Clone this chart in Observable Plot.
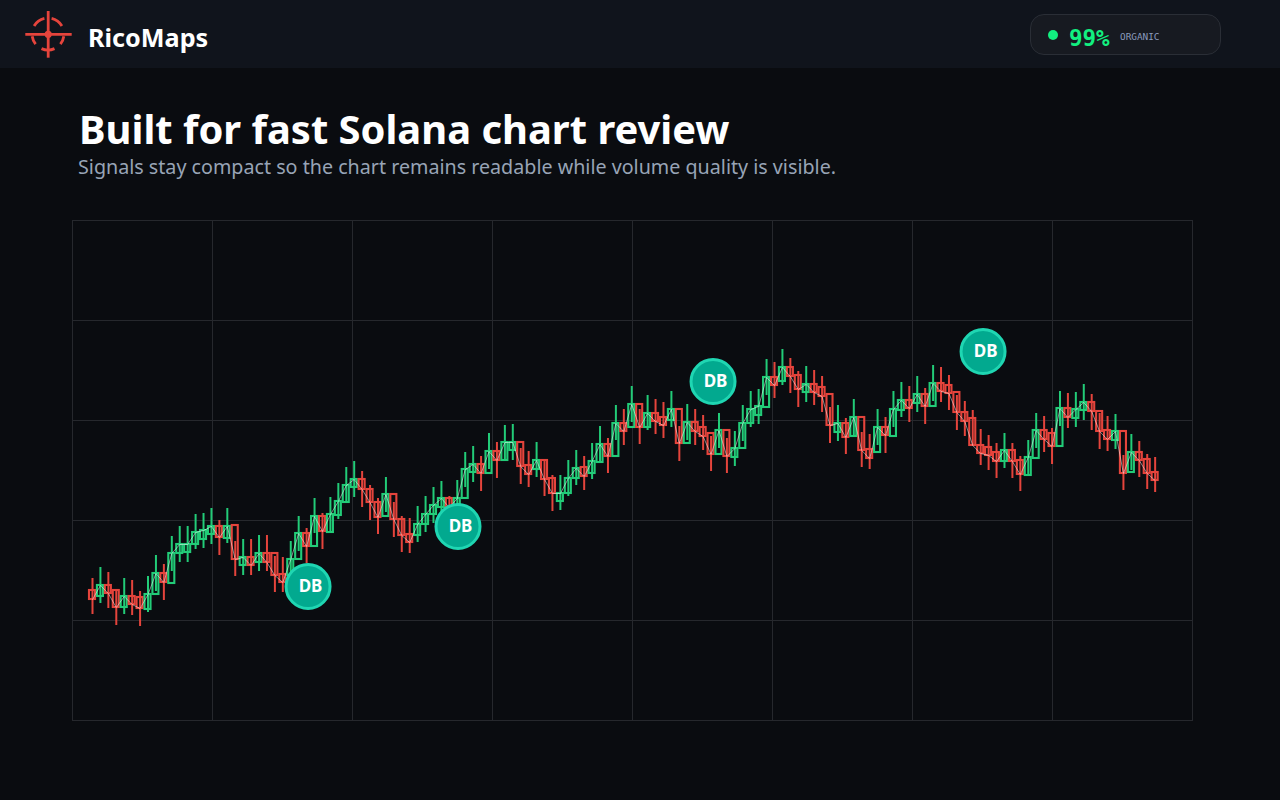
<!DOCTYPE html>
<html><head><meta charset="utf-8">
<script src="https://cdn.jsdelivr.net/npm/d3@7"></script>
<script src="https://cdn.jsdelivr.net/npm/@observablehq/plot@0.6"></script>
<style>
html,body{margin:0;padding:0;background:#0a0c10;width:1280px;height:800px;overflow:hidden;font-family:"Noto Sans",sans-serif}
.hdr{position:absolute;left:0;top:0;width:1280px;height:68px;background:#10141c}
.logo{position:absolute;left:24px;top:10px}
.brand{position:absolute;left:88px;top:19px;font-size:25.2px;line-height:36px;font-weight:700;color:#fff}
.pill{position:absolute;left:1030px;top:14px;width:189px;height:39px;border:1px solid #2a2e36;border-radius:14px;background:#171a21}
.dot{position:absolute;left:17px;top:15px;width:10px;height:10px;border-radius:50%;background:#12f080}
.pct{position:absolute;left:38px;top:9px;font:700 22.5px/28px "DejaVu Sans Mono",monospace;color:#12f080}
.org{position:absolute;left:89px;top:15px;font:9.4px/14px "DejaVu Sans Mono",monospace;color:#8a9bbd}
h1{position:absolute;left:79px;top:99.5px;margin:0;font-size:39.9px;line-height:58px;font-weight:700;color:#fff;white-space:nowrap}
p.sub{position:absolute;left:78px;top:152px;margin:0;font-size:19.7px;line-height:30px;color:#98a4b6;white-space:nowrap}
#chart{position:absolute;left:0;top:200px}
#chart svg{display:block;background:transparent}
</style></head><body>
<div class="hdr">
<svg class="logo" width="48" height="48" viewBox="0 0 48 48">
<g fill="none" stroke="#e5443c" stroke-width="2.8">
<path d="M27.6 8.4A16 16 0 0 1 37.9 16"/><path d="M39.8 26.2A16 16 0 0 1 36.4 34.1"/><path d="M30.5 38.6A16 16 0 0 1 17.5 38.6"/><path d="M11.6 34.1A16 16 0 0 1 8.2 26.2"/><path d="M10.1 16A16 16 0 0 1 20.4 8.4"/>
<line x1="1.3" y1="24.3" x2="47.7" y2="24.3"/><line x1="24.2" y1="1" x2="24.2" y2="47.7"/></g>
<circle cx="24.2" cy="24.3" r="3.6" fill="#e5443c"/>
</svg>
<div class="brand">RicoMaps</div>
<div class="pill"><div class="dot"></div><div class="pct">99%</div><div class="org">ORGANIC</div></div>
</div>
<h1>Built for fast Solana chart review</h1>
<p class="sub">Signals stay compact so the chart remains readable while volume quality is visible.</p>
<div id="chart"></div>
<script>
const opens=[130,124,135,130,113,124,123,111,126,147,137,167,168,176,181,186,194,182,195,155,163,158,167,167,146,145,161,187,174,204,188,205,218,233,241,231,218,204,226,201,186,185,196,206,213,222,213,222,248,256,247,269,260,270,278,255,251,260,242,219,227,242,253,247,258,276,264,297,293,316,293,307,303,300,311,277,298,293,287,266,290,263,272,297,305,313,343,339,353,345,328,336,333,326,288,297,284,303,271,268,293,284,310,320,317,326,314,337,335,328,308,302,275,273,268,259,270,260,245,262,290,287,274,312,302,310,318,309,290,280,289,248,268,261,248];
const closes=[121,135,127,113,124,116,112,126,147,138,167,176,176,188,190,194,183,194,161,163,155,167,158,145,138,161,187,174,204,189,206,219,235,241,231,218,203,226,201,185,178,196,206,215,222,213,222,251,256,247,269,260,278,278,254,246,260,241,227,227,242,252,244,259,276,264,297,289,316,293,307,299,295,311,277,298,289,284,266,290,264,272,297,311,314,343,335,353,344,331,336,328,324,295,297,283,303,270,262,293,285,311,320,312,326,314,337,329,327,308,299,275,267,265,259,270,259,246,263,290,281,274,312,303,311,318,309,289,281,289,247,268,260,247,240];
const highs=[142,153,148,131,142,140,129,144,165,156,184,194,194,206,207,212,200,212,179,181,181,185,185,164,163,179,204,192,222,207,223,237,253,259,249,235,222,243,218,204,202,214,224,233,239,224,240,268,274,264,287,278,295,296,272,269,278,259,245,245,260,270,264,277,294,282,315,311,334,311,325,321,318,329,294,316,311,305,284,307,282,289,315,329,331,361,358,371,362,349,354,350,344,313,315,302,321,288,286,311,303,329,338,334,344,332,355,353,345,325,319,310,291,285,277,287,277,264,280,307,304,292,329,327,328,336,326,307,304,306,265,286,279,266,263];
const lows=[106,117,112,95,106,105,94,108,129,120,149,158,158,171,172,176,165,177,144,145,145,149,149,128,128,143,169,157,187,171,188,201,218,223,213,200,186,208,183,168,167,178,188,197,204,188,205,233,238,229,251,242,260,260,236,233,243,224,209,210,224,235,230,241,258,247,280,275,298,276,290,286,282,293,259,280,275,270,249,272,247,254,279,293,296,325,322,335,327,313,318,315,308,277,279,266,285,253,251,275,267,293,303,298,308,296,319,318,310,290,284,274,255,250,242,252,242,229,245,272,268,256,294,292,293,300,290,271,269,271,230,250,243,231,228];
const badgeAt=[27.18,46.09,78.25,112.3];
const badgePrice=[134,194,339,369];
const yGrid=[100,200,300,400];
const xGrid=[1,2,3,4,5,6,7].map(k=>-2.522+k*17.654);
const xDomain=[-2.522,138.71];
const GREEN="#22cc78",RED="#e5443c";
const candles=opens.map((o,i)=>({i,o,c:closes[i],h:highs[i],l:lows[i],col:closes[i]>=o?GREEN:RED}));
const badges=badgeAt.map((x,k)=>({x,y:badgePrice[k]}));
const chart=Plot.plot({
 width:1280,height:540,marginLeft:72,marginRight:88,marginTop:20,marginBottom:20,
 x:{domain:xDomain,axis:null},y:{domain:[0,500],axis:null},
 marks:[
  Plot.ruleY(yGrid,{stroke:"#26282d",strokeWidth:1}),
  Plot.ruleX(xGrid,{stroke:"#26282d",strokeWidth:1}),
  Plot.frame({stroke:"#26282d",strokeWidth:1}),
  Plot.ruleX(candles,{x:"i",y1:"l",y2:"h",stroke:d=>d.col,strokeWidth:2}),
  Plot.rect(candles,{x1:d=>d.i-0.38,x2:d=>d.i+0.38,y1:d=>Math.min(d.o,d.c),y2:d=>Math.max(d.o,d.c),fill:"none",stroke:d=>d.col,strokeWidth:2.1}),
  Plot.line(candles,{x:"i",y:"c",stroke:"#ffffff",strokeOpacity:0.55,strokeWidth:0.9}),
  Plot.dot(badges,{x:"x",y:"y",r:22,fill:"#02a98f",stroke:"#1fd6b2",strokeWidth:3}),
  Plot.text(badges,{x:"x",y:"y",text:()=>"DB",dx:2.5,fill:"#ffffff",fontSize:17,fontWeight:700,fontFamily:"Noto Sans"})
 ]
});
document.getElementById("chart").appendChild(chart);
</script>
</body></html>
